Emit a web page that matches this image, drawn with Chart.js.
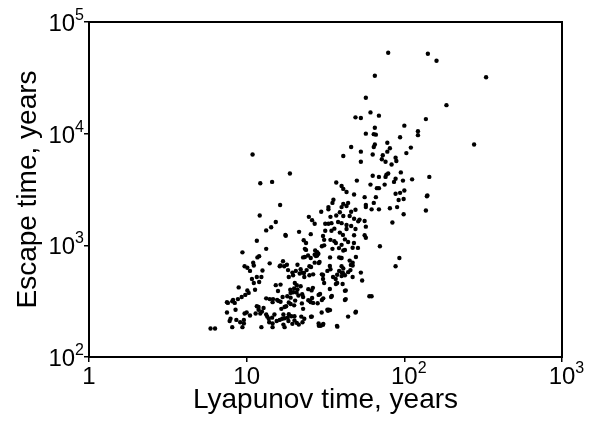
<!DOCTYPE html>
<html>
<head>
<meta charset="utf-8">
<script src="https://cdn.jsdelivr.net/npm/chart.js@4"></script>
<style>
  html, body { margin: 0; padding: 0; background: #fff; }
  canvas { display: block; }
</style>
</head>
<body>
<canvas id="chart" width="592" height="421"></canvas>
<script>
// Lyapunov time (years) and escape time (years)
const lyapunovTime = [
  79, 141, 160, 330, 65, 57, 185, 61, 69, 49, 53, 137, 100, 65, 122, 122, 57, 64, 66, 94,
  277, 78, 65, 64, 110, 46, 81, 73, 78, 41, 53, 103, 10.9, 63, 88, 72, 76, 89, 53, 83,
  18.8, 112, 144, 95, 98, 77, 76, 79, 69, 63, 50, 88, 86, 75, 61, 37, 14.5, 12.2, 67, 69,
  40, 41, 100, 94, 99, 88, 48, 43, 56, 66, 139, 140, 92, 16.3, 35.5, 35, 44, 41, 57, 64,
  57, 90, 62, 69, 81, 33, 33, 40, 43, 29.7, 39, 46, 49, 137, 99, 12.1, 24.8, 37, 45, 48,
  52, 34, 41, 84, 56, 31.5, 33, 34.5, 38, 40, 15.3, 26, 27, 51, 43, 46, 49, 43, 57, 36,
  31.5, 34.5, 13.3, 14.3, 39, 21.5, 25.5, 17.6, 17.7, 48, 56, 57, 42, 44, 31, 34, 36, 11.6, 23, 30,
  47, 70, 31, 40, 38.5, 35, 13.3, 9.4, 41, 23.4, 23.8, 27.2, 28, 12, 11.7, 93, 28.5, 28, 27, 24.5,
  22.8, 25.5, 33.8, 38.6, 40, 45, 47, 29, 27, 17, 11, 14, 18, 17.3, 9.7, 10.1, 11.1, 16.2, 16.4, 21,
  25, 25.6, 88, 40, 41, 47, 34, 45.5, 22, 24, 18.3, 20.5, 32.5, 38.6, 40, 44, 53, 10.5, 12.6, 19.5,
  21.7, 22.5, 26.4, 30, 37.5, 42, 10.8, 11.6, 12.4, 18.5, 19.7, 23.2, 25, 30.5, 36.7, 40, 47, 54, 12, 11.1,
  15.3, 16.4, 20.2, 20.8, 31, 37.5, 40.6, 22, 8.9, 18.9, 20, 21, 24.6, 25.8, 11.3, 10.1, 10.3, 15.8, 19, 19.7,
  20.7, 22.5, 42.5, 9.8, 21.3, 22.8, 28.6, 34.3, 60, 62, 9.3, 8.8, 8.2, 16.9, 18.1, 19, 26, 30.6, 42.5, 8.1,
  7.6, 15.9, 13.3, 14, 14.7, 15.6, 14.6, 16.4, 18.5, 20.3, 24.6, 25.5, 26.4, 28.2, 22.4, 20, 19, 17.8, 17.4, 16.6,
  8.5, 8.4, 11.6, 11.9, 12.8, 11.9, 12.5, 12.2, 11.4, 10, 10.5, 9.7, 9.6, 9.6, 9.1, 7.9, 7.8, 7.5, 7.5, 8.6,
  8.1, 13.3, 13.5, 13.8, 14.5, 15, 13.9, 14.6, 15.5, 16.2, 16.8, 17.4, 18.2, 17.1, 18.5, 19.2, 20.1, 18.4, 19.5, 20.1,
  17.4, 17.1, 22.6, 22.2, 23.2, 25.9, 20.8, 21.4, 29.9, 32.5, 33.2, 33.8, 44, 49, 28.6, 29.5, 30.6, 37.6, 14.6, 12.4,
  5.9, 6.3, 9.4,
  30.5, 40.8, 23.8, 36.8, 47.9, 50.8, 27.9, 42, 23.4, 27.5, 39.6, 49.3, 28.7, 33.7, 45.8, 23.1, 30.5, 40.8, 35.3, 36.8,
  26.3, 33.7, 42, 29.2, 34.7, 42, 25.2, 30, 22.8, 32.8, 49.3, 25.6, 28.7, 30.5, 37.4
];
const escapeTime = [
  53000, 52000, 45000, 32000, 33000, 21000, 18000, 15500, 14500, 14000, 13800, 13500, 11800, 11300, 10500, 9700, 10000, 9900, 9800, 9300,
  8000, 8300, 8000, 7600, 7500, 7600, 7400, 6400, 6900, 6300, 6900, 6700, 6500, 6500, 6100, 5900, 5600, 5700, 5600, 5300,
  4400, 3900, 4100, 4500, 3800, 4300, 4100, 4400, 4100, 4200, 3800, 3950, 3700, 3500, 3500, 3650, 3700, 3600, 3250, 3250,
  3400, 3200, 3100, 2950, 2600, 2900, 2850, 3000, 2700, 2700, 2750, 2800, 2550, 2300, 2560, 2400, 2400, 2350, 2300, 2400,
  2200, 2200, 2100, 2100, 2150, 2200, 2100, 2200, 2250, 2000, 1980, 2000, 2080, 2050, 1900, 1850, 1800, 1850, 1830, 1730,
  1700, 1800, 1830, 1600, 1650, 1560, 1560, 1580, 1620, 1580, 1620, 1680, 1560, 1640, 1520, 1490, 1400, 1400, 1470, 1410,
  1350, 1350, 1360, 1450, 1300, 1320, 1260, 1240, 1220, 1230, 1230, 1170, 1130, 1070, 1120, 1120, 1090, 1100, 1110, 980,
  950, 980, 1000, 1010, 945, 930, 930, 865, 900, 930, 910, 900, 870, 800, 780, 770, 840, 810, 825, 810,
  780, 770, 780, 780, 770, 730, 700, 710, 700, 720, 700, 690, 670, 650, 650, 630, 660, 650, 660, 670,
  650, 640, 650, 650, 620, 660, 610, 600, 610, 600, 600, 590, 590, 590, 570, 575, 570, 590, 595, 570,
  560, 570, 550, 550, 545, 540, 500, 520, 520, 520, 540, 520, 540, 500, 500, 530, 520, 485, 470, 460,
  440, 445, 460, 440, 460, 460, 450, 430, 420, 400, 410, 402, 405, 395, 400, 395, 375, 390, 375, 380,
  378, 365, 395, 360, 355, 345, 360, 345, 350, 350, 345, 330, 325, 345, 350, 340, 338, 335, 330, 315,
  305, 318, 335, 330, 330, 325, 310, 312, 308, 320, 322, 310, 305, 303, 302, 290, 298, 285, 280, 270,
  265, 305, 285, 280, 275, 265, 255, 245, 245, 250, 235, 245, 215, 200, 205, 220, 210, 250, 310, 215,
  185, 240, 230, 220, 225, 240, 205, 200, 210, 215, 220, 222, 225, 240, 242, 232, 232, 210, 198, 212,
  185, 195, 205, 230, 220, 230, 202, 195, 250, 265, 265, 263, 230, 250, 200, 190, 198, 187, 185, 185,
  180, 180, 185,
  1213, 1240, 1050, 1050, 1050, 948, 855, 910, 787, 803, 771, 787, 695, 654, 668, 566, 543, 566, 521, 451,
  416, 407, 391, 367, 352, 324, 318, 324, 270, 259, 254, 229, 190, 194, 190
];
const xTicks = [1, 10, 100, 1000];
const yTicks = [100, 1000, 10000, 100000];
const xTitle = "Lyapunov time, years";
const yTitle = "Escape time, years";

const FONT = "'Liberation Sans', Arial, sans-serif";
const points = lyapunovTime.map((x, i) => ({ x: x, y: escapeTime[i] }));

// "1", "10", "10^n" with a raised exponent
function drawPower(ctx, value, px, py, align) {
  const e = Math.round(Math.log10(value));
  const base = e === 0 ? "1" : "10";
  const sup = e > 1 ? String(e) : "";
  ctx.font = "24px " + FONT;
  const bw = ctx.measureText(base).width;
  ctx.font = "16px " + FONT;
  const sw = sup ? ctx.measureText(sup).width : 0;
  const bx = align === "center" ? px - bw / 2 : px - bw - sw;
  ctx.textAlign = "left";
  ctx.textBaseline = "alphabetic";
  ctx.font = "24px " + FONT;
  ctx.fillText(base, bx, py);
  if (sup) {
    ctx.font = "16px " + FONT;
    ctx.fillText(sup, bx + bw, py - 11);
  }
}

const frameAndLabels = {
  id: "frameAndLabels",
  afterDraw(chart) {
    const ctx = chart.ctx;
    const a = chart.chartArea;
    const xs = chart.scales.x, ys = chart.scales.y;
    ctx.save();
    ctx.strokeStyle = "#000";
    ctx.lineWidth = 2;
    ctx.strokeRect(a.left, a.top, a.right - a.left, a.bottom - a.top);
    ctx.fillStyle = "#000";
    xTicks.forEach(v => drawPower(ctx, v, xs.getPixelForValue(v), a.bottom + 27, "center"));
    yTicks.forEach(v => drawPower(ctx, v, a.left - 5, ys.getPixelForValue(v) + 9, "right"));
    ctx.restore();
  }
};

new Chart(document.getElementById("chart"), {
  type: "scatter",
  plugins: [frameAndLabels],
  data: {
    datasets: [{
      data: points,
      backgroundColor: "#000",
      borderWidth: 0,
      pointRadius: 2.2,
      pointHoverRadius: 2.2
    }]
  },
  options: {
    responsive: false,
    animation: false,
    layout: { padding: { top: 22, right: 30, left: 0, bottom: 0 } },
    plugins: { legend: { display: false }, tooltip: { enabled: false } },
    scales: {
      x: {
        type: "logarithmic",
        min: 1,
        max: 1000,
        afterBuildTicks: s => { s.ticks = xTicks.map(v => ({ value: v })); },
        afterFit: s => { s.height = 64; },
        ticks: { display: false },
        border: { display: false },
        grid: { drawOnChartArea: false, drawTicks: true, tickLength: 5, color: "#000", lineWidth: 1.5 },
        title: { display: true, text: xTitle, color: "#000", font: { family: FONT, size: 28 }, padding: { top: 0, bottom: 4 } }
      },
      y: {
        type: "logarithmic",
        min: 100,
        max: 100000,
        afterBuildTicks: s => { s.ticks = yTicks.map(v => ({ value: v })); },
        afterFit: s => { s.width = 89; },
        ticks: { display: false },
        border: { display: false },
        grid: { drawOnChartArea: false, drawTicks: true, tickLength: 5, color: "#000", lineWidth: 1.5 },
        title: { display: true, text: yTitle, color: "#000", font: { family: FONT, size: 28 }, padding: { top: 11, bottom: 0 } }
      }
    }
  }
});
</script>
</body>
</html>
